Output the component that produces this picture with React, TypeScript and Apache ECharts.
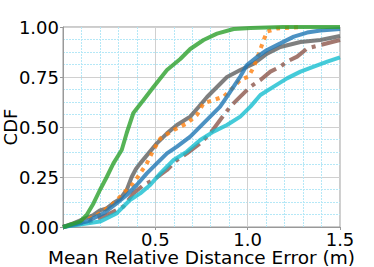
import React, { useEffect, useRef } from "react";
import * as echarts from "echarts";

const xTicks = [0, 0.5, 1.0, 1.5];
const yTicks = [0, 0.25, 0.5, 0.75, 1.0];

const green: [number, number][] = [
  [0, 0], [0.02, 0.005], [0.05, 0.015], [0.092, 0.027], [0.128, 0.06], [0.165, 0.118], [0.2, 0.185],
  [0.237, 0.25], [0.273, 0.318], [0.318, 0.385], [0.345, 0.47], [0.381, 0.57], [0.436, 0.635],
  [0.49, 0.7], [0.563, 0.785], [0.635, 0.84], [0.689, 0.89], [0.761, 0.935], [0.834, 0.967],
  [0.924, 0.99], [1.015, 0.995], [1.19, 1.0], [1.5, 1.0],
];
const gray: [number, number][] = [
  [0, 0], [0.056, 0.018], [0.11, 0.04], [0.165, 0.06], [0.2, 0.083], [0.237, 0.093], [0.273, 0.12],
  [0.309, 0.14], [0.345, 0.185], [0.372, 0.25], [0.395, 0.29], [0.418, 0.318], [0.463, 0.368],
  [0.508, 0.418], [0.563, 0.468], [0.617, 0.51], [0.689, 0.552], [0.734, 0.6], [0.78, 0.65],
  [0.834, 0.7], [0.888, 0.75], [0.96, 0.785], [1.033, 0.817], [1.105, 0.867], [1.177, 0.9],
  [1.286, 0.925], [1.394, 0.935], [1.5, 0.955],
];
const orange: [number, number][] = [
  [0, 0], [0.11, 0.027], [0.2, 0.068], [0.273, 0.118], [0.327, 0.168], [0.381, 0.218], [0.418, 0.268],
  [0.454, 0.318], [0.49, 0.385], [0.527, 0.443], [0.599, 0.485], [0.671, 0.518], [0.725, 0.56],
  [0.761, 0.618], [0.815, 0.635], [0.87, 0.652], [0.924, 0.7], [0.96, 0.735], [1.005, 0.752],
  [1.033, 0.8], [1.06, 0.867], [1.087, 0.935], [1.105, 0.977], [1.159, 0.993], [1.286, 1.0],
];
const blue: [number, number][] = [
  [0, 0], [0.128, 0.027], [0.219, 0.068], [0.29, 0.118], [0.345, 0.16], [0.399, 0.21], [0.454, 0.268],
  [0.508, 0.318], [0.563, 0.368], [0.617, 0.402], [0.689, 0.452], [0.743, 0.502], [0.797, 0.552],
  [0.851, 0.602], [0.888, 0.652], [0.924, 0.702], [0.96, 0.752], [0.996, 0.81], [1.05, 0.85],
  [1.105, 0.885], [1.177, 0.918], [1.25, 0.952], [1.322, 0.972], [1.394, 0.982], [1.5, 0.99],
];
const brown: [number, number][] = [
  [0, 0], [0.146, 0.027], [0.237, 0.06], [0.327, 0.102], [0.381, 0.168], [0.436, 0.21], [0.49, 0.235],
  [0.563, 0.285], [0.617, 0.335], [0.671, 0.368], [0.743, 0.418], [0.797, 0.468], [0.851, 0.535],
  [0.906, 0.602], [0.96, 0.652], [1.015, 0.702], [1.069, 0.735], [1.123, 0.777], [1.177, 0.802],
  [1.213, 0.827], [1.268, 0.852], [1.322, 0.893], [1.394, 0.91], [1.5, 0.935],
];
const cyan: [number, number][] = [
  [0, 0], [0.2, 0.027], [0.29, 0.068], [0.363, 0.135], [0.418, 0.168], [0.472, 0.21], [0.527, 0.268],
  [0.599, 0.335], [0.671, 0.377], [0.743, 0.435], [0.815, 0.477], [0.888, 0.51], [0.96, 0.552],
  [1.015, 0.602], [1.069, 0.66], [1.141, 0.702], [1.213, 0.743], [1.286, 0.777], [1.358, 0.802],
  [1.431, 0.827], [1.5, 0.848],
];

const FONT = "DejaVu Sans";

export default function App() {
  const ref = useRef<HTMLDivElement>(null);
  useEffect(() => {
    if (!ref.current) return;
    const chart = echarts.init(ref.current, null, { renderer: "svg" });
    const mk = (name: string, data: [number, number][], color: string, type: any) => ({
      name,
      type: "line",
      data,
      showSymbol: false,
      symbol: "none",
      clip: true,
      lineStyle: { color, width: 4, opacity: 0.8, type, cap: "butt" },
    });
    chart.setOption({
      animation: false,
      grid: {
        left: 63, right: 34, top: 27, bottom: 40,
        outerBoundsMode: "none",
        containLabel: false,
        show: true, borderColor: "#999", borderWidth: 1, backgroundColor: "transparent",
      },
      xAxis: {
        type: "value", min: xTicks[0], max: xTicks[xTicks.length - 1], interval: 0.5,
        name: "Mean Relative Distance Error (m)", nameLocation: "middle", nameGap: 23,
        nameMoveOverlap: false,
        nameTextStyle: { fontFamily: FONT, fontSize: 18.5, color: "#000", lineHeight: 14 },
        axisLine: { show: true, lineStyle: { color: "#999", width: 1 } },
        axisTick: { show: true, length: 3, lineStyle: { color: "#999" } },
        axisLabel: {
          fontFamily: FONT, fontSize: 18, color: "#000", margin: 5, lineHeight: 14,
          formatter: (v: number) => (v === 0 ? "" : v.toFixed(1)),
        },
        splitLine: { show: true, lineStyle: { color: "#d0d0d0", width: 1 } },
        minorTick: { show: false, splitNumber: 5 },
        minorSplitLine: { show: true, lineStyle: { color: "#b5e8f7", width: 1, type: [2, 1] } },
      },
      yAxis: {
        type: "value", min: yTicks[0], max: yTicks[yTicks.length - 1], interval: 0.25,
        name: "CDF", nameLocation: "middle", nameGap: 44,
        nameMoveOverlap: false,
        nameTextStyle: { fontFamily: FONT, fontSize: 18, color: "#000" },
        axisLine: { show: true, lineStyle: { color: "#999", width: 1 } },
        axisTick: { show: true, length: 3, lineStyle: { color: "#999" } },
        axisLabel: {
          fontFamily: FONT, fontSize: 18, color: "#000", margin: 4,
          formatter: (v: number) => v.toFixed(2),
        },
        splitLine: { show: true, lineStyle: { color: "#d0d0d0", width: 1 } },
        minorTick: { show: false, splitNumber: 4 },
        minorSplitLine: { show: true, lineStyle: { color: "#b5e8f7", width: 1, type: [2, 1] } },
      },
      series: [
        mk("gray", gray, "#5f5f5f", "solid"),
        mk("orange", orange, "#ff7f0e", [4, 5]),
        mk("brown", brown, "#8c564b", [20, 6, 4, 6]),
        mk("cyan", cyan, "#17becf", "solid"),
        mk("blue", blue, "#1f77b4", "solid"),
        mk("green", green, "#2ca02c", "solid"),
      ],
    });
    return () => chart.dispose();
  }, []);
  return (
    <div
      ref={ref}
      style={{ position: "fixed", left: 0, top: 0, width: 374, height: 267, background: "#fff" }}
    />
  );
}
